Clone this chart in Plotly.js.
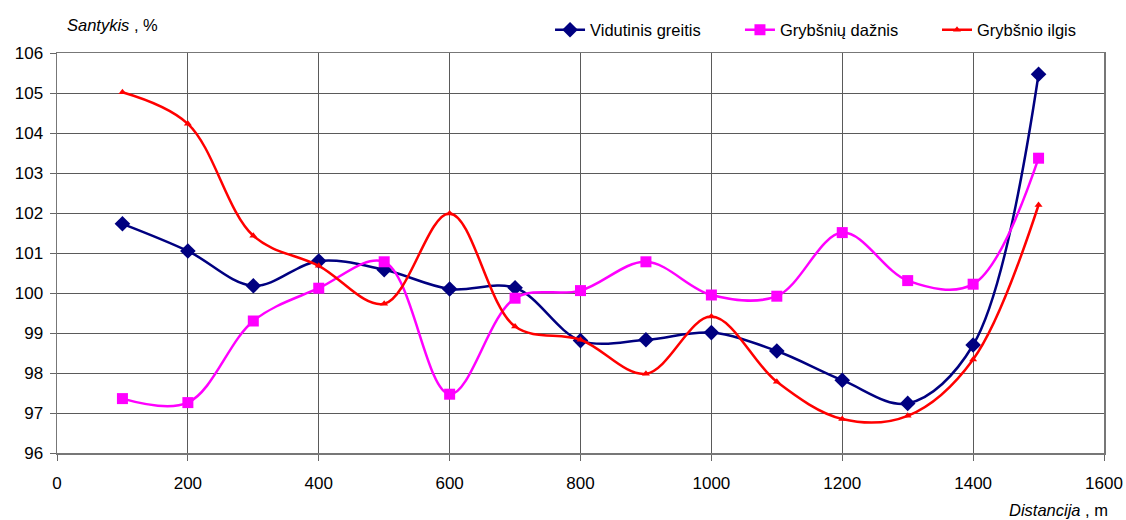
<!DOCTYPE html>
<html>
<head>
<meta charset="utf-8">
<script src="https://cdn.plot.ly/plotly-3.0.1.min.js"></script>
<style>html,body{margin:0;padding:0;background:#fff;}#chart{width:1126px;height:520px;}</style>
</head>
<body>
<div id="chart"></div>
<script>
const distance = [100,200,300,400,500,600,700,800,900,1000,1100,1200,1300,1400,1500];
const vidutinisGreitis = [101.73,101.05,100.18,100.80,100.58,100.10,100.13,98.81,98.83,99.01,98.55,97.82,97.24,98.70,105.47];
const grybsniuDaznis = [97.36,97.26,99.30,100.12,100.78,97.47,99.87,100.06,100.78,99.95,99.92,101.51,100.31,100.22,103.37];
const grybsnioIlgis = [105.02,104.23,101.43,100.68,99.73,101.99,99.16,98.83,97.98,99.41,97.78,96.85,96.93,98.34,102.20];
const seriesNames = ['Vidutinis greitis','Grybšnių dažnis','Grybšnio ilgis'];
const xTicks = [0,200,400,600,800,1000,1200,1400,1600];
const yTicks = [96,97,98,99,100,101,102,103,104,105,106];

const fam = '"Liberation Sans", Arial, sans-serif';
const tickFont = {family:fam, size:17, color:'#000'};
const textFont = {family:fam, size:16.5, color:'#000'};

const traces = [
  {x:distance, y:vidutinisGreitis, name:seriesNames[0], type:'scatter', mode:'lines+markers', legend:'legend',
   line:{color:'#000080', width:2.5, shape:'spline', smoothing:1},
   marker:{symbol:'diamond', size:12, color:'#000080'}},
  {x:distance, y:grybsniuDaznis, name:seriesNames[1], type:'scatter', mode:'lines+markers', legend:'legend2',
   line:{color:'#ff00ff', width:2.5, shape:'spline', smoothing:1},
   marker:{symbol:'square', size:11, color:'#ff00ff'}},
  {x:distance, y:grybsnioIlgis, name:seriesNames[2], type:'scatter', mode:'lines+markers', legend:'legend3',
   line:{color:'#ff0000', width:2.5, shape:'spline', smoothing:1},
   marker:{symbol:'triangle-up', size:7, color:'#ff0000'}}
];

function leg(x){
  return {orientation:'h', x:x, xanchor:'left', y:1.0575, yanchor:'middle', font:textFont,
          itemwidth:30, bgcolor:'rgba(0,0,0,0)'};
}

const layout = {
  width:1126, height:520,
  margin:{l:57, r:22, t:53, b:67},
  paper_bgcolor:'#fff', plot_bgcolor:'#fff',
  font:textFont,
  showlegend:true,
  legend:leg(0.4709),
  legend2:leg(0.6523),
  legend3:leg(0.8405),
  xaxis:{range:[0,1600], tickvals:xTicks, ticktext:xTicks.map(String), showgrid:true, gridcolor:'#5a5a5a', gridwidth:1,
         zeroline:false, showline:true, linecolor:'#777', linewidth:1.5, mirror:true,
         ticks:'outside', ticklen:6, tickcolor:'#666', tickfont:tickFont, ticklabelstandoff:8, fixedrange:true},
  yaxis:{range:[96,106], tickvals:yTicks, ticktext:yTicks.map(String), showgrid:true, gridcolor:'#5a5a5a', gridwidth:1,
         zeroline:false, showline:true, linecolor:'#777', linewidth:1.5, mirror:true,
         ticks:'outside', ticklen:6, tickcolor:'#666', tickfont:tickFont, ticklabelstandoff:3, fixedrange:true},
  annotations:[
    {xref:'paper', yref:'paper', x:0.0076, y:1.07, xanchor:'left', yanchor:'middle', showarrow:false,
     text:'<i>Santykis</i> , %', font:textFont},
    {xref:'paper', yref:'paper', x:1.0057, y:-0.1425, xanchor:'right', yanchor:'middle', showarrow:false,
     text:'<i>Distancija</i> , m', font:textFont}
  ]
};

Plotly.newPlot('chart', traces, layout, {displayModeBar:false, staticPlot:true});
</script>
</body>
</html>
